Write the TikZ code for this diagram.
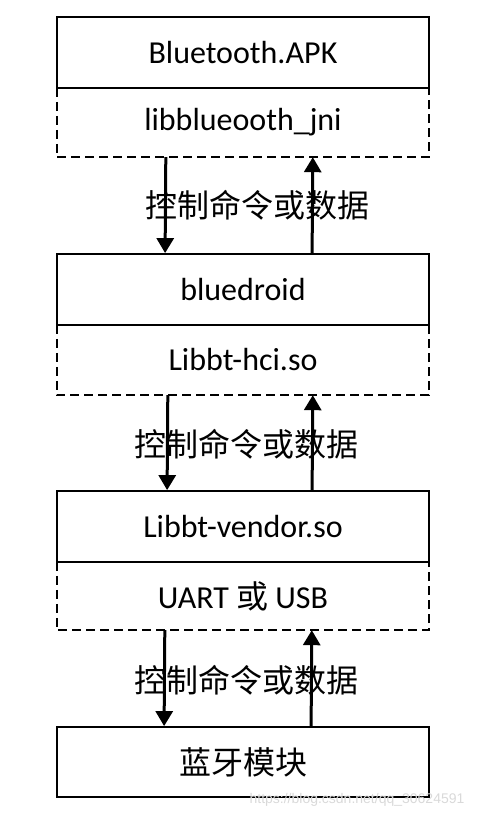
\documentclass[tikz,border=0pt]{standalone}
\usepackage{fontspec}
\setmainfont{Carlito}
\newfontfamily\cjk{Noto Sans CJK SC}
\newfontfamily\wmfont{Liberation Sans}
\usetikzlibrary{arrows.meta,calc}
\begin{document}
\begin{tikzpicture}[x=1pt,y=-1pt,
  solidbox/.style={draw,line width=1.8pt,minimum width=372pt,inner sep=0pt,
    font=\fontsize{32}{38}\selectfont},
  dashbox/.style={minimum width=372pt,inner sep=0pt,font=\fontsize{32}{38}\selectfont},
  dashline/.style={line width=1.6pt,dash pattern=on 9pt off 5pt},
  flow/.style={line width=3pt,-{Triangle[length=15pt,width=17pt]}},
  lbl/.style={font=\cjk\fontsize{32}{38}\selectfont,inner sep=0pt}]
\useasboundingbox (0,0) rectangle (490,817);
% boxes
\node[solidbox,minimum height=71pt] (apk) at (243,52.5) {Bluetooth.APK};
\node[dashbox,minimum height=69pt] (jni) at (243,122.5) {libblueooth\_jni};
\node[solidbox,minimum height=71pt] (bd) at (243,289.5) {bluedroid};
\node[dashbox,minimum height=70pt] (hci) at (243,360) {Libbt-hci.so};
\node[solidbox,minimum height=71pt] (ven) at (243,526.5) {Libbt-vendor.so};
\node[dashbox,minimum height=68pt] (uart) at (243,596) {UART {\cjk 或} USB};
\node[solidbox,minimum height=70pt,font=\cjk\fontsize{32}{38}\selectfont] (bt) at (243,762) {蓝牙模块};
% dashed outlines
\draw[dashline] (jni.north west) -- (jni.south west) -- (jni.south east) -- (jni.north east);
\draw[dashline] (hci.north west) -- (hci.south west) -- (hci.south east) -- (hci.north east);
\draw[dashline] (uart.north west) -- (uart.south west) -- (uart.south east) -- (uart.north east);
% arrows
\draw[flow] ($(jni.south west)+(109,0)$) -- ($(bd.north west)+(109,0)$);
\draw[flow] ($(bd.north west)+(256,0)$) -- ($(jni.south west)+(256,0)$);
\draw[flow] ($(hci.south west)+(111,0)$) -- ($(ven.north west)+(111,0)$);
\draw[flow] ($(ven.north west)+(256,0)$) -- ($(hci.south west)+(256,0)$);
\draw[flow] ($(uart.south west)+(108,0)$) -- ($(bt.north west)+(108,0)$);
\draw[flow] ($(bt.north west)+(255,0)$) -- ($(uart.south west)+(255,0)$);
% labels
\node[lbl] (l1) at (257,205) {控制命令或数据};
\node[lbl] (l2) at (246,444) {控制命令或数据};
\node[lbl] (l3) at (246,680) {控制命令或数据};
% watermark
\node[font=\wmfont\fontsize{14}{16}\selectfont,text=gray!30,inner sep=0pt] (wm) at (357,800) {https://blog.csdn.net/qq\_30624591};
\end{tikzpicture}
\end{document}
